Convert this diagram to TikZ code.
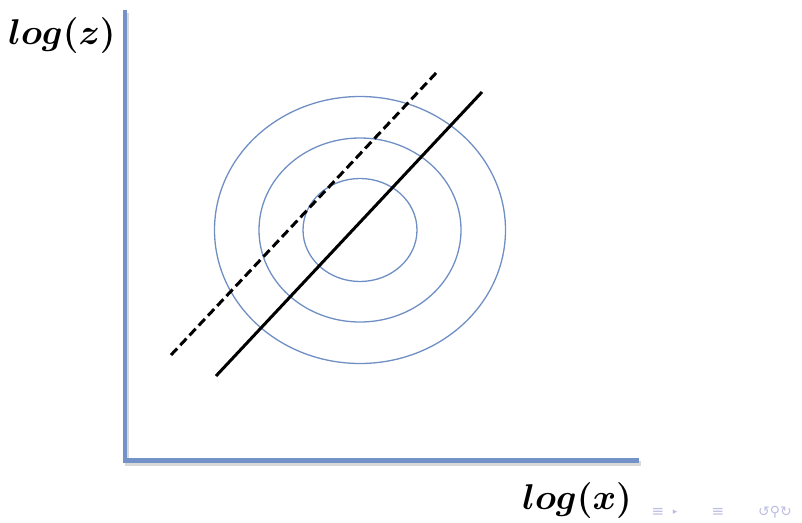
\documentclass[tikz,border=0pt]{standalone}
\usepackage{amsmath,bm}
\usepackage{fontspec}
\newfontfamily\symfont{DejaVu Sans}
\definecolor{axisblue}{HTML}{7393C8}
\definecolor{ringblue}{HTML}{6F8FC4}
\definecolor{navcol}{HTML}{BDBDE3}
\tikzset{
  axisline/.style={line width=4.5pt, axisblue},
  axshadow/.style={line width=4.5pt, black!15},
  ring/.style={draw=ringblue, line width=1.3pt},
  fitline/.style={line width=3pt, black},
  dashline/.style={line width=3pt, black, dash pattern=on 9pt off 4.5pt},
  lbl/.style={inner sep=0pt, scale=1.44, font=\fontsize{24.88}{28}\selectfont},
  navsym/.style={inner sep=0pt, text=navcol, font=\symfont\fontsize{15}{16}\selectfont}
}
\begin{document}
\begin{tikzpicture}[x=1pt,y=-1pt]
\useasboundingbox (0,0) rectangle (802,522);
% axes
\coordinate (o) at (125,460.5);
\coordinate (ytop) at (125,10);
\coordinate (xend) at (639,460.5);
\draw[axshadow] ([shift={(2,3)}]ytop) -- ([shift={(2,3)}]o) -- ([shift={(2,3)}]xend);
\draw[axisline] (ytop) -- (o) -- (xend);
% rings
\node (c) at (360,230) {};
\draw[ring] (c.center) ellipse [x radius=145.5, y radius=133.5];
\draw[ring] (c.center) ellipse [x radius=101, y radius=92];
\draw[ring] (c.center) ellipse [x radius=57, y radius=51.5];
% lines
\coordinate (d1) at (171,355);
\coordinate (d2) at (437,72);
\coordinate (s1) at (216,376);
\coordinate (s2) at (482,92);
\draw[dashline] (d1) -- (d2);
\draw[fitline] (s1) -- (s2);
% labels
\node[lbl, anchor=west] (lz) at (8,36) {$\bm{log(z)}$};
\node[lbl, anchor=west] (lx) at (522,501) {$\bm{log(x)}$};
% navigation symbols
\node[navsym] (n1) at (658,512) {≡};
\node[navsym, font=\symfont\fontsize{9}{10}\selectfont] (n2) at (675,512) {▸};
\node[navsym] (n3) at (718,512) {≡};
\node[navsym, font=\symfont\fontsize{14}{15}\selectfont] (n4) at (775,512) {↺⚲↻};
\end{tikzpicture}
\end{document}
